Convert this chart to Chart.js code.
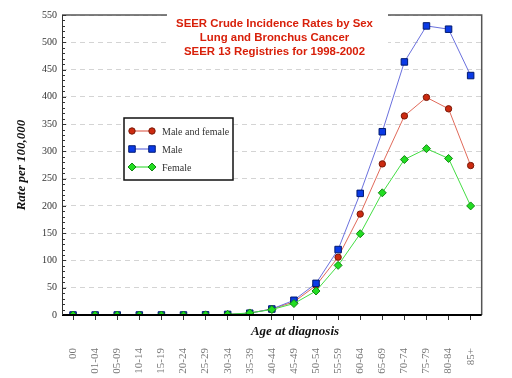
<!DOCTYPE html>
<html><head><meta charset="utf-8">
<script src="https://cdn.jsdelivr.net/npm/chart.js@4"></script>
<style>html,body{margin:0;padding:0;background:#fff}#wrap{width:512px;height:378px}</style>
</head><body><div id="wrap"><canvas id="c" width="512" height="378"></canvas></div>
<script>
const categories = ['00','01-04','05-09','10-14','15-19','20-24','25-29','30-34','35-39','40-44','45-49','50-54','55-59','60-64','65-69','70-74','75-79','80-84','85+'];
const maleAndFemale = [0,0,0,0,0,0,0.3,1,3.5,11,24,54,106,185,277,365,399,378,274];
const male = [0,0,0,0,0,0,0.3,1,3.3,11,27,58,120,223,336,464,530,524,439];
const female = [0,0,0,0,0,0,0.3,1.2,3.8,10,21,44,91,149,224,285,305,287,200];
const yTicks = [0,50,100,150,200,250,300,350,400,450,500,550];
const titleLines = ['SEER Crude Incidence Rates by Sex','Lung and Bronchus Cancer','SEER 13 Registries for 1998-2002'];
const legendLabels = ['Male and female','Male','Female'];
const yTitle = 'Rate per 100,000';
const xTitle = 'Age at diagnosis';

const styles = [
  {line:'#e06a5a', fill:'#cc2a10', border:'#7a1a08', pt:'circle', r:3.2},
  {line:'#6a70dd', fill:'#0a3ae6', border:'#001a70', pt:'rect', r:4.6},
  {line:'#44dd44', fill:'#22dd22', border:'#118811', pt:'rectRot', r:4}
];
const series = [maleAndFemale, male, female];
const orders = [2,1,0];

const decor = {
  id:'decor',
  beforeDatasetsDraw(chart){
    const {ctx, chartArea:a} = chart;
    const y = chart.scales.y;
    ctx.save();
    ctx.strokeStyle = '#555'; ctx.lineWidth = 1.5;
    ctx.beginPath(); ctx.moveTo(a.left, a.top); ctx.lineTo(a.right, a.top); ctx.lineTo(a.right, a.bottom); ctx.stroke();
    ctx.strokeStyle = '#333'; ctx.lineWidth = 1;
    for (let v = 0; v <= 550; v += 10) {
      const py = Math.round(y.getPixelForValue(v)) + 0.5;
      ctx.beginPath(); ctx.moveTo(a.left, py); ctx.lineTo(a.left + (v % 50 === 0 ? 4 : 3), py); ctx.stroke();
    }
    ctx.restore();
  },
  afterDatasetsDraw(chart){
    const {ctx, chartArea:a} = chart;
    ctx.save();
    ctx.strokeStyle = '#000'; ctx.lineWidth = 2;
    ctx.beginPath(); ctx.moveTo(a.left, a.bottom); ctx.lineTo(a.right, a.bottom); ctx.stroke();
    ctx.strokeStyle = '#333'; ctx.lineWidth = 1;
    ctx.beginPath(); ctx.moveTo(a.left + 0.5, a.top); ctx.lineTo(a.left + 0.5, a.bottom); ctx.stroke();
    // title box
    ctx.fillStyle = '#fff';
    ctx.fillRect(167, 8, 221, 54);
    ctx.fillStyle = '#d8200a';
    ctx.font = 'bold 11.4px "Liberation Sans", Arial, sans-serif';
    ctx.textAlign = 'center'; ctx.textBaseline = 'middle';
    titleLines.forEach((t, i) => ctx.fillText(t, 274.5, 24 + i * 14));
    // legend
    const lx = 124, ly = 118, lw = 109, lh = 62;
    ctx.fillStyle = '#fff'; ctx.fillRect(lx, ly, lw, lh);
    ctx.strokeStyle = '#111'; ctx.lineWidth = 1.5; ctx.strokeRect(lx, ly, lw, lh);
    ctx.font = '10px "Liberation Serif", "Times New Roman", serif';
    ctx.textAlign = 'left';
    legendLabels.forEach((lab, i) => {
      const s = styles[i];
      const yy = 131 + i * 18;
      ctx.strokeStyle = s.line; ctx.lineWidth = 1.2;
      ctx.beginPath(); ctx.moveTo(132, yy); ctx.lineTo(152, yy); ctx.stroke();
      [132, 152].forEach(px => {
        ctx.fillStyle = s.fill; ctx.strokeStyle = s.border; ctx.lineWidth = 1;
        Chart.helpers.drawPoint(ctx, {pointStyle: s.pt, radius: s.r, borderWidth: 1, rotation: 0}, px, yy);
      });
      ctx.fillStyle = '#333';
      ctx.fillText(lab, 162, yy + 1);
    });
    // axis titles
    ctx.fillStyle = '#111';
    ctx.font = 'italic bold 13px "Liberation Serif", "Times New Roman", serif';
    ctx.textAlign = 'center'; ctx.textBaseline = 'middle';
    ctx.fillText(xTitle, 295, 332);
    ctx.translate(22, 165); ctx.rotate(-Math.PI / 2);
    ctx.fillText(yTitle, 0, 0);
    ctx.restore();
  }
};

new Chart(document.getElementById('c'), {
  type: 'line',
  data: {
    labels: categories,
    datasets: series.map((d, i) => ({
      label: legendLabels[i],
      data: d,
      order: orders[i],
      borderColor: styles[i].line,
      borderWidth: 1,
      pointStyle: styles[i].pt,
      pointRadius: styles[i].r,
      pointBackgroundColor: styles[i].fill,
      pointBorderColor: styles[i].border,
      pointBorderWidth: 1,
      tension: 0
    }))
  },
  options: {
    responsive: false,
    animation: false,
    events: [],
    layout: {padding: {top: 15, right: 3, left: 0, bottom: 0}},
    plugins: {legend: {display: false}, title: {display: false}, tooltip: {enabled: false}},
    scales: {
      x: {
        offset: true,
        afterFit(s){ s.height = 63; },
        grid: {drawOnChartArea: false, drawTicks: true, tickLength: 5, color: '#333'},
        border: {display: false},
        ticks: {autoSkip: false, minRotation: 90, maxRotation: 90, padding: 28, color: '#777',
          font: {family: '"Liberation Serif", "Times New Roman", serif', size: 11}}
      },
      y: {
        min: 0, max: 550,
        afterFit(s){ s.width = 62; },
        afterBuildTicks(s){ s.ticks = yTicks.map(v => ({value: v})); },
        grid: {drawTicks: false, color: '#d4d4d4', lineWidth: 1},
        border: {display: false, dash: [5, 4]},
        ticks: {padding: 5, color: '#333', font: {family: '"Liberation Serif", "Times New Roman", serif', size: 10}}
      }
    }
  },
  plugins: [decor]
});
</script></body></html>
